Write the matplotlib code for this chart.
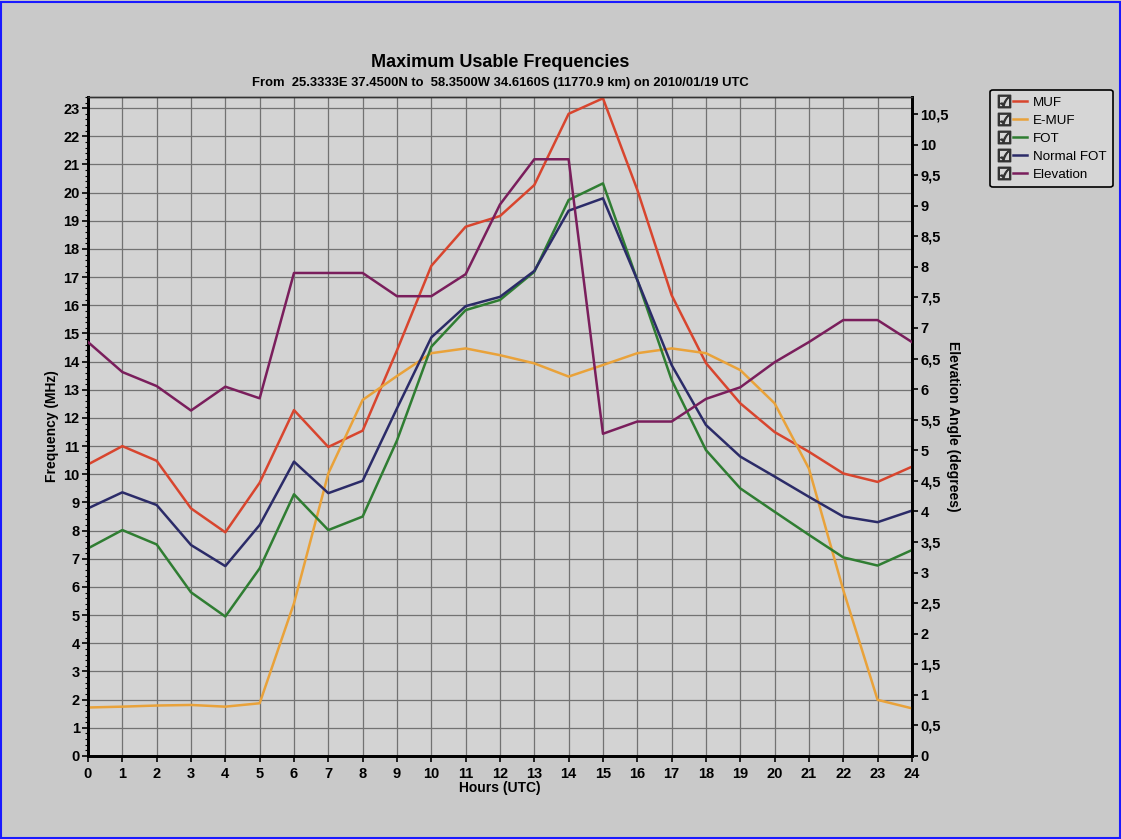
import matplotlib

matplotlib.use("Agg")

import numpy as np
from matplotlib import pyplot as plt
from matplotlib.legend_handler import HandlerTuple
from matplotlib.lines import Line2D
from matplotlib.patches import Rectangle
from matplotlib.ticker import AutoMinorLocator, FuncFormatter, MultipleLocator

hours = np.arange(0, 25)

muf = [10.35, 11.0, 10.48, 8.79, 7.94, 9.7, 12.28, 10.97, 11.55, 14.4, 17.4, 18.79,
       19.17, 20.27, 22.8, 23.35, 20.1, 16.36, 13.95, 12.52, 11.5, 10.8, 10.03, 9.73, 10.27]
e_muf = [1.72, 1.75, 1.79, 1.81, 1.75, 1.87, 5.42, 10.03, 12.64, 13.49, 14.3, 14.47,
         14.23, 13.94, 13.47, 13.88, 14.3, 14.47, 14.3, 13.7, 12.52, 10.2, 5.89, 1.99, 1.69]
fot = [7.37, 8.02, 7.51, 5.81, 4.95, 6.66, 9.29, 8.02, 8.5, 11.2, 14.53, 15.83,
       16.19, 17.19, 19.74, 20.33, 16.9, 13.35, 10.86, 9.5, 8.67, 7.85, 7.05, 6.76, 7.31]
normal_fot = [8.79, 9.36, 8.91, 7.49, 6.74, 8.2, 10.45, 9.33, 9.77, 12.34, 14.86, 15.97,
              16.3, 17.22, 19.36, 19.8, 16.9, 13.88, 11.75, 10.63, 9.92, 9.2, 8.5, 8.3, 8.71]
elevation = [6.77, 6.28, 6.05, 5.65, 6.04, 5.85, 7.9, 7.9, 7.9, 7.52, 7.52, 7.88,
             9.02, 9.76, 9.76, 5.27, 5.47, 5.47, 5.84, 6.03, 6.44, 6.77, 7.13, 7.13, 6.77]

series = [
    ("MUF", muf, "#d8452e"),
    ("E-MUF", e_muf, "#e9a23a"),
    ("FOT", fot, "#2f7d32"),
    ("Normal FOT", normal_fot, "#2b2b68"),
]
elev_color = "#7a1e5c"

title = "Maximum Usable Frequencies"
subtitle = "From  25.3333E 37.4500N to  58.3500W 34.6160S (11770.9 km) on 2010/01/19 UTC"

plt.rcParams.update({
    "font.family": ["Liberation Sans", "DejaVu Sans"],
    "font.weight": "bold",
})

fig = plt.figure(figsize=(11.21, 8.39), dpi=100, facecolor="#c9c9c9")
ax = fig.add_axes([0.0785, 0.099, 0.735, 0.7855])
ax.set_facecolor("#d3d3d3")

for name, values, color in series:
    ax.plot(hours, values, color=color, linewidth=1.8, zorder=3)

ax.set_xlim(0, 24)
ax.set_ylim(0, 23.4)
ax.xaxis.set_major_locator(MultipleLocator(1))
ax.yaxis.set_major_locator(MultipleLocator(1))
ax.yaxis.set_minor_locator(AutoMinorLocator(5))
ax.grid(True, which="major", color="#727272", linewidth=0.9)
ax.set_axisbelow(True)
ax.tick_params(axis="both", which="major", direction="out", length=4, width=1.2,
               labelsize=10.5, pad=2)
ax.tick_params(axis="x", which="major", pad=4)
ax.tick_params(axis="y", which="minor", direction="out", length=2, width=0.8)
for lbl in ax.get_xticklabels() + ax.get_yticklabels():
    lbl.set_fontweight("bold")
ax.set_xlabel("Hours (UTC)", fontsize=10, fontweight="bold", labelpad=0)
ax.set_ylabel("Frequency (MHz)", fontsize=10, fontweight="bold", labelpad=3)

ax2 = ax.twinx()
ax2.plot(hours, elevation, color=elev_color, linewidth=1.8, zorder=3)
ax2.set_ylim(0, 10.78)
ax2.yaxis.set_major_locator(MultipleLocator(0.5))
ax2.yaxis.set_major_formatter(FuncFormatter(lambda v, _: f"{v:g}".replace(".", ",")))
ax2.tick_params(axis="y", direction="out", length=4, width=1.2, labelsize=10.5, pad=2)
for lbl in ax2.get_yticklabels():
    lbl.set_fontweight("bold")
ax2.set_ylabel("Elevation Angle (degrees)", fontsize=10, fontweight="bold",
               rotation=-90, labelpad=8)

for a in (ax, ax2):
    for side in ("left", "bottom", "right"):
        a.spines[side].set_linewidth(2.0)
        a.spines[side].set_color("black")
    a.spines["top"].set_linewidth(1.0)
    a.spines["top"].set_color("#333333")

fig.text(0.446, 0.926, title, ha="center", va="center", fontsize=13, fontweight="bold")
fig.text(0.446, 0.901, subtitle, ha="center", va="center", fontsize=9.4, fontweight="bold")

# legend with check boxes
legend_handles = []
legend_labels = []
for name, values, color in series + [("Elevation", elevation, elev_color)]:
    box = Line2D([], [], linestyle="none", marker="$\u2611$", markersize=9,
                 color="#333333")
    ln = Line2D([], [], color=color, linewidth=1.8)
    legend_handles.append((box, ln))
    legend_labels.append(name)

leg = fig.legend(
    legend_handles, legend_labels,
    handler_map={tuple: HandlerTuple(ndivide=None, pad=0.1)},
    loc="upper left", bbox_to_anchor=(0.883, 0.893),
    frameon=True, fancybox=True, handlelength=2.3,
    handletextpad=0.4, labelspacing=0.42, borderpad=0.5, borderaxespad=0.0,
    prop={"family": ["Liberation Sans", "DejaVu Sans"], "weight": "normal", "size": 9.6},
)
leg.get_frame().set_facecolor("#d6d6d6")
leg.get_frame().set_edgecolor("black")
leg.get_frame().set_linewidth(1.2)
leg.get_frame().set_alpha(1)

fig.patches.append(Rectangle((0.001, 0.001), 0.998, 0.997, transform=fig.transFigure,
                             fill=False, edgecolor="#1a1aff", linewidth=1.5))

fig.savefig("out.png", dpi=100, facecolor=fig.get_facecolor())
plt.close(fig)
